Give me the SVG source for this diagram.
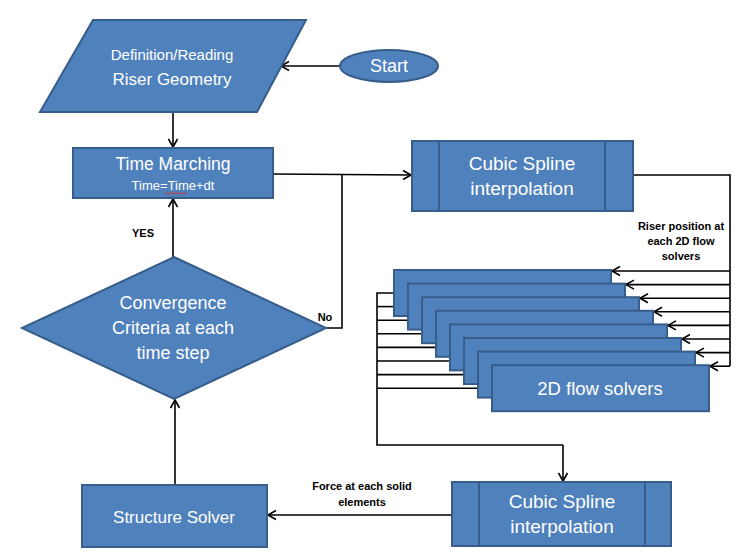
<svg xmlns="http://www.w3.org/2000/svg" width="741" height="560" viewBox="0 0 741 560">
<defs>
<marker id="arr" markerUnits="userSpaceOnUse" markerWidth="12" markerHeight="12" refX="9" refY="5" orient="auto" viewBox="0 0 12 10">
<path d="M1,0.5 L9,5 L1,9.5" fill="none" stroke="#000" stroke-width="1.6"/>
</marker>
<style>
.shape{fill:#4F81BD;stroke:#385D8A;stroke-width:2}
.inner{fill:none;stroke:#385D8A;stroke-width:2}
.t{fill:#fff;font-family:"Liberation Sans",Arial,sans-serif;text-anchor:middle}
.lbl{fill:#000;font-family:"Liberation Sans",Arial,sans-serif;font-weight:bold;font-size:11px;text-anchor:middle}
.c{fill:none;stroke:#000;stroke-width:1.6}
.ca{fill:none;stroke:#000;stroke-width:1.6;marker-end:url(#arr)}
</style>
</defs>
<rect width="741" height="560" fill="#fff"/>

<g id="connectors">
<line class="ca" x1="340" y1="66" x2="281" y2="66"/>
<line class="ca" x1="173" y1="112" x2="173" y2="147"/>
<line class="ca" x1="273" y1="174" x2="411" y2="175"/>
<polyline class="c" points="326,328 342,328 342,174"/>
<line class="ca" x1="173" y1="257" x2="173" y2="199"/>
<line class="ca" x1="175" y1="484" x2="175" y2="400"/>
<polyline class="c" points="633,175 730,175 730,366"/>
<line class="ca" x1="730" y1="271" x2="612" y2="271"/>
<line class="ca" x1="730" y1="284.6" x2="626" y2="284.6"/>
<line class="ca" x1="730" y1="298.2" x2="640" y2="298.2"/>
<line class="ca" x1="730" y1="311.8" x2="654" y2="311.8"/>
<line class="ca" x1="730" y1="325.4" x2="668" y2="325.4"/>
<line class="ca" x1="730" y1="339" x2="682" y2="339"/>
<line class="ca" x1="730" y1="352.6" x2="696" y2="352.6"/>
<line class="ca" x1="730" y1="366.2" x2="710" y2="366.2"/>
<polyline class="c" points="394,293 377,293 377,445 563,445"/>
<line class="c" x1="377" y1="306.6" x2="408" y2="306.6"/>
<line class="c" x1="377" y1="320.2" x2="422" y2="320.2"/>
<line class="c" x1="377" y1="333.8" x2="436" y2="333.8"/>
<line class="c" x1="377" y1="347.4" x2="450" y2="347.4"/>
<line class="c" x1="377" y1="361" x2="464" y2="361"/>
<line class="c" x1="377" y1="374.6" x2="478" y2="374.6"/>
<line class="c" x1="377" y1="388.2" x2="492" y2="388.2"/>
<line class="ca" x1="563" y1="445" x2="563" y2="481"/>
<line class="ca" x1="452" y1="515" x2="268" y2="515"/>
<text class="lbl" x="681" y="230">Riser position at</text>
<text class="lbl" x="681" y="245">each 2D flow</text>
<text class="lbl" x="681" y="260">solvers</text>
<text class="lbl" x="362" y="490">Force at each solid</text>
<text class="lbl" x="362" y="506">elements</text>
<text class="lbl" x="143" y="237">YES</text>
<text class="lbl" x="325" y="321">No</text>
</g>

<g id="start">
<ellipse class="shape" cx="389" cy="66" rx="49" ry="16"/>
<text class="t" x="389" y="72" font-size="18">Start</text>
</g>

<g id="definition">
<polygon class="shape" points="93,20 306,20 257,112 40,112"/>
<text class="t" x="172" y="60" font-size="15">Definition/Reading</text>
<text class="t" x="172" y="85" font-size="17">Riser Geometry</text>
</g>

<g id="time-marching">
<rect class="shape" x="73" y="148" width="200" height="50"/>
<text class="t" x="173" y="170" font-size="17.5">Time Marching</text>
<text class="t" x="173" y="190" font-size="13">Time=Time+dt</text>
<path d="M165,194 l2,-1.5 l2,1.5 l2,-1.5 l2,1.5 l2,-1.5 l2,1.5 l2,-1.5 l2,1.5 l2,-1.5 l2,1.5 l2,-1.5" fill="none" stroke="#e03030" stroke-width="0.9"/>
</g>

<g id="cubic-spline-top">
<rect class="shape" x="412" y="141" width="221" height="70"/>
<line class="inner" x1="439" y1="141" x2="439" y2="211"/>
<line class="inner" x1="605" y1="141" x2="605" y2="211"/>
<text class="t" x="522" y="170" font-size="19">Cubic Spline</text>
<text class="t" x="522" y="195" font-size="19">interpolation</text>
</g>

<g id="convergence">
<polygon class="shape" points="174,257 326,328 174,399 22,328"/>
<text class="t" x="173" y="309" font-size="18">Convergence</text>
<text class="t" x="173" y="334" font-size="18">Criteria at each</text>
<text class="t" x="173" y="359" font-size="18">time step</text>
</g>

<g id="flow-solvers">
<rect class="shape" x="394" y="270" width="217" height="46"/>
<rect class="shape" x="408" y="283.6" width="217" height="46"/>
<rect class="shape" x="422" y="297.2" width="217" height="46"/>
<rect class="shape" x="436" y="310.8" width="217" height="46"/>
<rect class="shape" x="450" y="324.4" width="217" height="46"/>
<rect class="shape" x="464" y="338" width="217" height="46"/>
<rect class="shape" x="478" y="351.6" width="217" height="46"/>
<rect class="shape" x="492" y="365.2" width="217" height="46"/>
<text class="t" x="600" y="395" font-size="18.5">2D flow solvers</text>
</g>

<g id="cubic-spline-bottom">
<rect class="shape" x="452" y="482" width="219" height="64"/>
<line class="inner" x1="479" y1="482" x2="479" y2="546"/>
<line class="inner" x1="645" y1="482" x2="645" y2="546"/>
<text class="t" x="562" y="508" font-size="19">Cubic Spline</text>
<text class="t" x="562" y="533" font-size="19">interpolation</text>
</g>

<g id="structure-solver">
<rect class="shape" x="82" y="485" width="185" height="62"/>
<text class="t" x="174" y="523" font-size="17">Structure Solver</text>
</g>
</svg>
